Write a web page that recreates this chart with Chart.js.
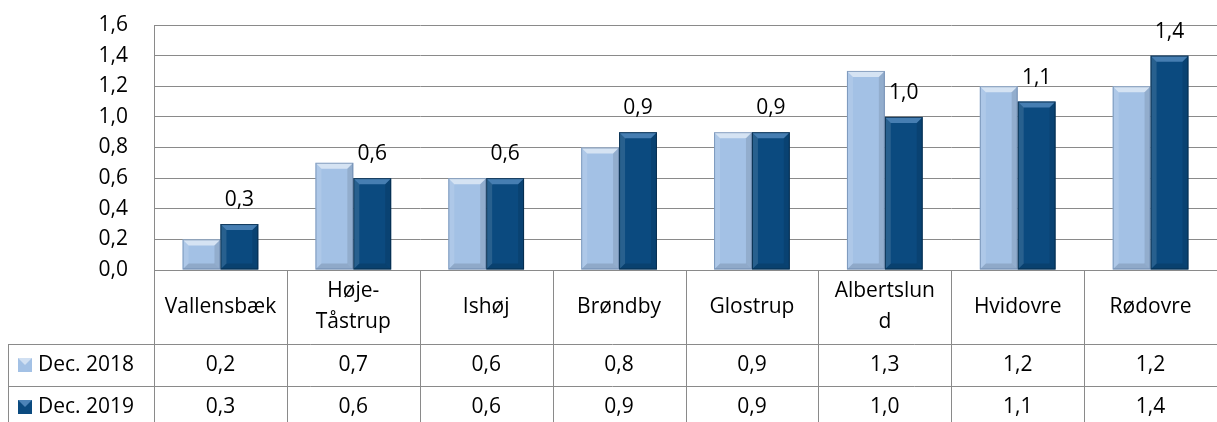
<!DOCTYPE html>
<html>
<head>
<meta charset="utf-8">
<script src="https://cdn.jsdelivr.net/npm/chart.js@4.4.0/dist/chart.umd.min.js"></script>
<style>
  body { margin: 0; background: #fff; }
  canvas { display: block; }
</style>
</head>
<body>
<canvas id="chart" width="1217" height="422"></canvas>
<script>
const categories = [
  ["Vallensbæk"],
  ["Høje-", "Tåstrup"],
  ["Ishøj"],
  ["Brøndby"],
  ["Glostrup"],
  ["Albertslun", "d"],
  ["Hvidovre"],
  ["Rødovre"]
];
const seriesNames = ["Dec. 2018", "Dec. 2019"];
const dec2018 = [0.2, 0.7, 0.6, 0.8, 0.9, 1.3, 1.2, 1.2];
const dec2019 = [0.3, 0.6, 0.6, 0.9, 0.9, 1.0, 1.1, 1.4];
const yTicks = [0, 0.2, 0.4, 0.6, 0.8, 1.0, 1.2, 1.4, 1.6];

const FONT = "'Open Sans', sans-serif";
const FSIZE = 21;
const lightFace = "#a3c1e5";
const darkFace = "#0b4a7f";
const lineColor = "#8a8a8a";

const fmt = (v) => v.toFixed(1).replace(".", ",");

// bevel look on each bar, drawn from the bar element's own geometry
const bevelPlugin = {
  id: "bevel",
  afterDatasetsDraw(chart) {
    const ctx = chart.ctx;
    chart.data.datasets.forEach((ds, di) => {
      chart.getDatasetMeta(di).data.forEach((bar) => {
        const p = bar.getProps(["x", "y", "base", "width"], true);
        const l = p.x - p.width / 2, r = p.x + p.width / 2;
        const t = p.y, b = p.base;
        const e = Math.min(6, (b - t) / 2);
        ctx.save();
        // top
        ctx.fillStyle = di === 0 ? "rgba(255,255,255,0.55)" : "rgba(120,170,220,0.55)";
        ctx.beginPath();
        ctx.moveTo(l, t); ctx.lineTo(r, t); ctx.lineTo(r - e, t + e); ctx.lineTo(l + e, t + e);
        ctx.closePath(); ctx.fill();
        // left
        ctx.fillStyle = "rgba(255,255,255,0.12)";
        ctx.beginPath();
        ctx.moveTo(l, t); ctx.lineTo(l + e, t + e); ctx.lineTo(l + e, b - e); ctx.lineTo(l, b);
        ctx.closePath(); ctx.fill();
        // right
        ctx.fillStyle = "rgba(0,0,0,0.10)";
        ctx.beginPath();
        ctx.moveTo(r, t); ctx.lineTo(r - e, t + e); ctx.lineTo(r - e, b - e); ctx.lineTo(r, b);
        ctx.closePath(); ctx.fill();
        // bottom
        ctx.fillStyle = "rgba(0,0,0,0.12)";
        ctx.beginPath();
        ctx.moveTo(l, b); ctx.lineTo(r, b); ctx.lineTo(r - e, b - e); ctx.lineTo(l + e, b - e);
        ctx.closePath(); ctx.fill();
        ctx.strokeStyle = di === 0 ? "rgba(90,120,160,0.6)" : "rgba(5,40,70,0.8)";
        ctx.lineWidth = 1;
        ctx.strokeRect(l + 0.5, t + 0.5, p.width - 1, b - t - 1);
        ctx.restore();
      });
    });
  }
};

// value labels above the Dec. 2019 bars
const labelPlugin = {
  id: "valueLabels",
  afterDatasetsDraw(chart) {
    const ctx = chart.ctx;
    ctx.save();
    ctx.font = FSIZE + "px " + FONT;
    ctx.fillStyle = "#000";
    ctx.textAlign = "center";
    ctx.textBaseline = "alphabetic";
    chart.getDatasetMeta(1).data.forEach((bar, i) => {
      ctx.fillText(fmt(dec2019[i]), bar.x, bar.y - 18);
    });
    ctx.restore();
  }
};

// data table under the plot, positioned from the x scale
const tablePlugin = {
  id: "dataTable",
  afterDraw(chart) {
    const ctx = chart.ctx;
    const xs = chart.scales.x;
    const area = chart.chartArea;
    const n = categories.length;
    const cw = (area.right - area.left) / n;
    const catBottom = area.bottom + 74;
    const rowH = 42;
    const legendLeft = 8;
    const H = chart.height;

    ctx.save();
    ctx.strokeStyle = lineColor;
    ctx.lineWidth = 1;
    ctx.beginPath();
    // vertical separators
    for (let i = 0; i <= n; i++) {
      const x = Math.round(area.left + i * cw) + 0.5;
      ctx.moveTo(x, i === 0 ? area.top : area.bottom);
      ctx.lineTo(x, H);
    }
    ctx.moveTo(legendLeft + 0.5, catBottom);
    ctx.lineTo(legendLeft + 0.5, H);
    // horizontal lines
    for (let r = 0; r < 2; r++) {
      const y = Math.round(catBottom + r * rowH) + 0.5;
      ctx.moveTo(legendLeft, y);
      ctx.lineTo(area.right, y);
    }
    ctx.stroke();

    ctx.font = FSIZE + "px " + FONT;
    ctx.fillStyle = "#000";
    ctx.textAlign = "center";
    ctx.textBaseline = "middle";
    categories.forEach((lines, i) => {
      const cx = xs.getPixelForValue(i);
      const mid = (area.bottom + catBottom) / 2;
      const lh = 31;
      lines.forEach((ln, k) => {
        ctx.fillText(ln, cx, mid + (k - (lines.length - 1) / 2) * lh);
      });
    });

    const rows = [dec2018, dec2019];
    const faces = [lightFace, darkFace];
    rows.forEach((vals, r) => {
      const cy = catBottom + r * rowH + rowH / 2;
      vals.forEach((v, i) => {
        ctx.textAlign = "center";
        ctx.fillText(fmt(v), xs.getPixelForValue(i), cy);
      });
      // legend key
      const kx = 18, ky = cy - 7, ks = 14;
      ctx.fillStyle = faces[r];
      ctx.fillRect(kx, ky, ks, ks);
      ctx.fillStyle = r === 0 ? "rgba(255,255,255,0.5)" : "rgba(120,170,220,0.6)";
      ctx.beginPath();
      ctx.moveTo(kx, ky); ctx.lineTo(kx + ks, ky); ctx.lineTo(kx + ks / 2, ky + ks / 2);
      ctx.closePath(); ctx.fill();
      ctx.fillStyle = "#000";
      ctx.textAlign = "left";
      ctx.fillText(seriesNames[r], 38, cy);
    });
    ctx.restore();
  }
};

new Chart(document.getElementById("chart"), {
  type: "bar",
  data: {
    labels: categories.map((c) => c.join("")),
    datasets: [
      {
        label: seriesNames[0],
        data: dec2018,
        backgroundColor: lightFace,
        borderWidth: 0,
        categoryPercentage: 0.57,
        barPercentage: 1.0
      },
      {
        label: seriesNames[1],
        data: dec2019,
        backgroundColor: darkFace,
        borderWidth: 0,
        categoryPercentage: 0.57,
        barPercentage: 1.0
      }
    ]
  },
  options: {
    responsive: false,
    animation: false,
    layout: { padding: { top: 25, bottom: 152, left: 0, right: 0 } },
    plugins: {
      legend: { display: false },
      tooltip: { enabled: false }
    },
    scales: {
      x: {
        display: false,
        grid: { display: false }
      },
      y: {
        min: 0,
        max: 1.6,
        afterBuildTicks(scale) {
          scale.ticks = yTicks.map((v) => ({ value: v }));
        },
        afterFit(scale) {
          scale.width = 154;
          scale.paddingTop = 0;
          scale.paddingBottom = 0;
        },
        ticks: {
          padding: 26,
          color: "#000",
          font: { family: FONT, size: FSIZE },
          callback: (v) => fmt(v)
        },
        grid: {
          color: lineColor,
          lineWidth: 1,
          drawTicks: false
        },
        border: { color: lineColor, width: 1 }
      }
    }
  },
  plugins: [bevelPlugin, labelPlugin, tablePlugin]
});
</script>
</body>
</html>
